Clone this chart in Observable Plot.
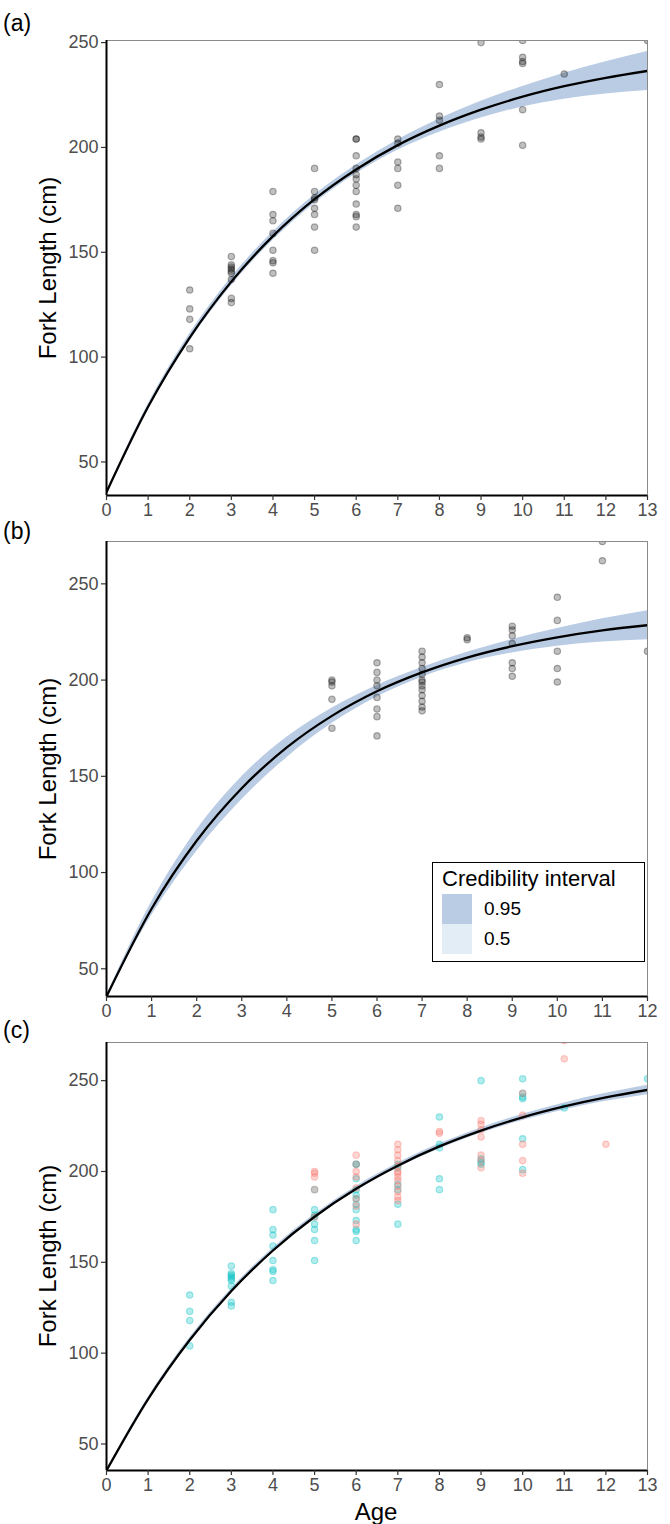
<!DOCTYPE html>
<html><head><meta charset="utf-8">
<script src="https://cdn.jsdelivr.net/npm/d3@7"></script>
<script src="https://cdn.jsdelivr.net/npm/@observablehq/plot@0.6"></script>
<style>
body{margin:0;background:#fff;font-family:"Liberation Sans",Arial,sans-serif;}
#fig{position:relative;width:670px;height:1524px;overflow:hidden;background:#fff;}
.panel{position:absolute;left:0;}
.lab{position:absolute;color:#000;white-space:nowrap;line-height:1;}
.ylab{position:absolute;color:#000;white-space:nowrap;font-size:24px;line-height:1;transform:translate(-50%,-50%) rotate(-90deg);}
#legend{position:absolute;left:432px;top:862px;width:213px;height:100px;box-sizing:border-box;border:1.5px solid #000;background:#fff;}
#legend .t{position:absolute;left:9px;top:3px;font-size:22px;color:#000;}
#legend .sw{position:absolute;left:9px;width:30px;}
#legend .lt{position:absolute;left:51px;font-size:19px;color:#000;transform:translateY(-50%);}
</style></head><body><div id="fig"></div>
<script>
// ---------- data ----------
// Dataset A (panel a, cyan in c)
const ageA = [2,2,2,2, 3,3,3,3,3,3,3,3,3, 4,4,4,4,4,4,4,4, 5,5,5,5,5,5,5,5,
  6,6,6,6,6,6,6,6,6,6,6,6, 7,7,7,7,7,7, 8,8,8,8,8, 9,9,9,9, 10,10,10,10,10,10, 11, 13];
const lenA = [132,123,118,104, 148,144,143,142,141,140,137,128,126, 179,168,165,159,151,146,145,140,
  190,179,176,175,171,168,162,151, 204,204,196,190,187,185,182,179,173,168,167,162,
  204,202,193,190,182,171, 230,215,213,196,190, 250,207,205,204, 251,243,241,240,218,201, 235, 251];
// Dataset B (panel b, red in c)
const ageB = [5,5,5,5,5, 6,6,6,6,6,6,6,6, 7,7,7,7,7,7,7,7,7,7,7,7,7, 8,8, 9,9,9,9,9,9,9,
  10,10,10,10,10, 11,11, 12];
const lenB = [200,199,197,190,175, 209,204,200,197,191,185,181,171,
  215,212,209,206,203,200,199,197,195,192,189,186,184, 222,221,
  228,226,223,219,209,206,202, 243,231,215,206,199, 272,262, 215];

// fitted curves and credibility bands, read at each age
const curveAge13 = [0,1,2,3,4,5,6,7,8,9,10,11,12,13];
const curveAge12 = [0,1,2,3,4,5,6,7,8,9,10,11,12];
const fitA  = [35.6,76.3,109.3,136.0,157.7,175.3,189.5,201.1,210.4,218.0,224.2,229.2,233.2,236.5];
const hi95A = [35.9,77.5,111.1,138.0,159.7,177.3,191.6,203.6,213.6,222.0,229.1,235.4,240.9,245.8];
const lo95A = [35.3,75.1,107.5,134.0,155.7,173.3,187.4,198.6,207.2,214.0,219.3,223.0,225.5,227.2];
const hi50A = [35.7,76.7,109.9,136.7,158.4,176.0,190.2,202.0,211.5,219.4,225.9,231.3,235.8,239.7];
const lo50A = [35.5,75.9,108.7,135.3,157.0,174.6,188.8,200.3,209.3,216.6,222.5,227.1,230.6,233.3];

const fitB  = [35.6,81.2,116.5,143.8,165.0,181.4,194.2,204.0,211.7,217.6,222.2,225.8,228.5];
const hi95B = [36.1,84.7,122.0,149.8,170.3,185.4,197.2,206.5,214.4,221.1,226.8,231.8,236.0];
const lo95B = [35.1,77.7,111.0,137.8,159.7,177.4,191.2,201.5,209.0,214.1,217.6,219.8,221.0];
const hi50B = [35.8,82.4,118.4,145.8,166.8,182.8,195.2,204.9,212.6,218.8,223.8,227.8,231.1];
const lo50B = [35.4,80.0,114.6,141.8,163.2,180.0,193.2,203.2,210.8,216.4,220.6,223.8,225.9];

const fitC  = [35.4,74.7,107.2,134.2,156.5,175.1,190.5,203.2,213.8,222.5,229.8,235.8,240.8,244.9];
const hi95C = [35.7,75.7,108.5,135.5,157.8,176.4,191.8,204.5,215.2,224.0,231.5,237.7,243.0,247.5];
const lo95C = [35.1,73.7,105.9,132.9,155.2,173.8,189.2,201.9,212.4,221.0,228.1,233.9,238.6,242.3];
const hi50C = [35.5,75.1,107.7,134.7,157.0,175.6,191.0,203.7,214.3,223.0,230.4,236.5,241.6,245.8];
const lo50C = [35.3,74.4,106.8,133.8,156.1,174.7,190.1,202.8,213.3,222.0,229.2,235.2,240.1,244.0];

const yTicks = [50,100,150,200,250];
const xTicks13 = [0,1,2,3,4,5,6,7,8,9,10,11,12,13];
const xTicks12 = [0,1,2,3,4,5,6,7,8,9,10,11,12];
const legendLevels = ["0.95","0.5"];
const legendTitle = "Credibility interval";
const panelLetters = ["(a)","(b)","(c)"];
const yTitle = "Fork Length (cm)";
const xTitle = "Age";

const band95Color = "#b9cce4";
const band50Color = "#e3edf6";
const colA = "#00BFC4", colB = "#F8766D";

// ---------- build ----------
const fig = document.getElementById("fig");
const pts = (ages, lens, g) => ages.map((a, i) => ({age: a, len: lens[i], g}));
const curveTable = (ages, fit, lo95, hi95, lo50, hi50) =>
  ages.map((t, i) => ({age: t, fit: fit[i], lo95: lo95[i], hi95: hi95[i], lo50: lo50[i], hi50: hi50[i]}));

function panel({top, height, mt, mb, xDomain, yDomain, xTicks, curve, points, colorMode}) {
  const dotOpts = colorMode
    ? {x: "age", y: "len", r: 3.2, fill: d => d.g === "A" ? colA : colB, stroke: d => d.g === "A" ? colA : colB,
       fillOpacity: 0.3, strokeOpacity: 0.35, strokeWidth: 1.2, clip: true}
    : {x: "age", y: "len", r: 3.2, fill: "black", stroke: "black", fillOpacity: 0.25, strokeOpacity: 0.3, strokeWidth: 1.2, clip: true};
  const p = Plot.plot({
    width: 670, height,
    marginLeft: 106, marginRight: 23, marginTop: mt, marginBottom: mb,
    style: {fontFamily: "'Liberation Sans', Arial, sans-serif", fontSize: "18px", color: "#4d4d4d", background: "transparent", overflow: "visible"},
    x: {domain: xDomain, label: null},
    y: {domain: yDomain, label: null},
    marks: [
      Plot.areaY(curve, {x: "age", y1: "lo95", y2: "hi95", fill: band95Color, curve: "monotone-x", clip: true}),
      Plot.areaY(curve, {x: "age", y1: "lo50", y2: "hi50", fill: band95Color, curve: "monotone-x", clip: true}),
      Plot.dot(points, dotOpts),
      Plot.lineY(curve, {x: "age", y: "fit", stroke: "black", strokeWidth: 2.3, curve: "monotone-x", clip: true}),
      Plot.frame({stroke: "#8a8a8a", strokeWidth: 1}),
      Plot.ruleX([xDomain[0]], {stroke: "black", strokeWidth: 2}),
      Plot.ruleY([yDomain[0]], {stroke: "black", strokeWidth: 2}),
      Plot.axisX({ticks: xTicks, tickSize: 5, tickPadding: 3, stroke: "#333", strokeWidth: 1.2, label: null, fill: "#4d4d4d", fontSize: 18}),
      Plot.axisY({ticks: yTicks, tickSize: 5, tickPadding: 3, stroke: "#333", strokeWidth: 1.2, label: null, fill: "#4d4d4d", fontSize: 18})
    ]
  });
  p.classList.add("panel");
  p.style.top = top + "px";
  fig.appendChild(p);
}

const pointsA = pts(ageA, lenA, "A");
const pointsB = pts(ageB, lenB, "B");

panel({top: 0, height: 525, mt: 40, mb: 30, xDomain: [0, 13], yDomain: [34, 251], xTicks: xTicks13,
  curve: curveTable(curveAge13, fitA, lo95A, hi95A, lo50A, hi50A), points: pointsA});
panel({top: 525, height: 505, mt: 16, mb: 34, xDomain: [0, 12], yDomain: [35.6, 272], xTicks: xTicks12,
  curve: curveTable(curveAge12, fitB, lo95B, hi95B, lo50B, hi50B), points: pointsB});
panel({top: 1030, height: 494, mt: 12, mb: 54, xDomain: [0, 13], yDomain: [35.4, 271], xTicks: xTicks13,
  curve: curveTable(curveAge13, fitC, lo95C, hi95C, lo50C, hi50C), points: pointsA.concat(pointsB), colorMode: true});

// panel letters
[[24, 0], [532, 1], [1031, 2]].forEach(([cy, i]) => {
  const d = document.createElement("div");
  d.className = "lab"; d.textContent = panelLetters[i];
  d.style.left = "3px"; d.style.top = (cy - 12) + "px"; d.style.fontSize = "23px";
  fig.appendChild(d);
});
// y titles
[267.5, 768.5, 1256].forEach(cy => {
  const d = document.createElement("div");
  d.className = "ylab"; d.textContent = yTitle;
  d.style.left = "48px"; d.style.top = cy + "px";
  fig.appendChild(d);
});
// x title
const xt = document.createElement("div");
xt.className = "lab"; xt.textContent = xTitle; xt.style.fontSize = "24px";
xt.style.left = "376px"; xt.style.top = "1500px"; xt.style.transform = "translateX(-50%)";
fig.appendChild(xt);

// legend
const lg = document.createElement("div"); lg.id = "legend";
const tt = document.createElement("div"); tt.className = "t"; tt.textContent = legendTitle; lg.appendChild(tt);
[[band95Color, 31, 30], [band50Color, 61, 30]].forEach(([c, y, h], i) => {
  const s = document.createElement("div"); s.className = "sw";
  s.style.top = y + "px"; s.style.height = h + "px"; s.style.background = c; lg.appendChild(s);
  const l = document.createElement("div"); l.className = "lt"; l.textContent = legendLevels[i];
  l.style.top = (y + h / 2) + "px"; lg.appendChild(l);
});
fig.appendChild(lg);
</script>
</body></html>
